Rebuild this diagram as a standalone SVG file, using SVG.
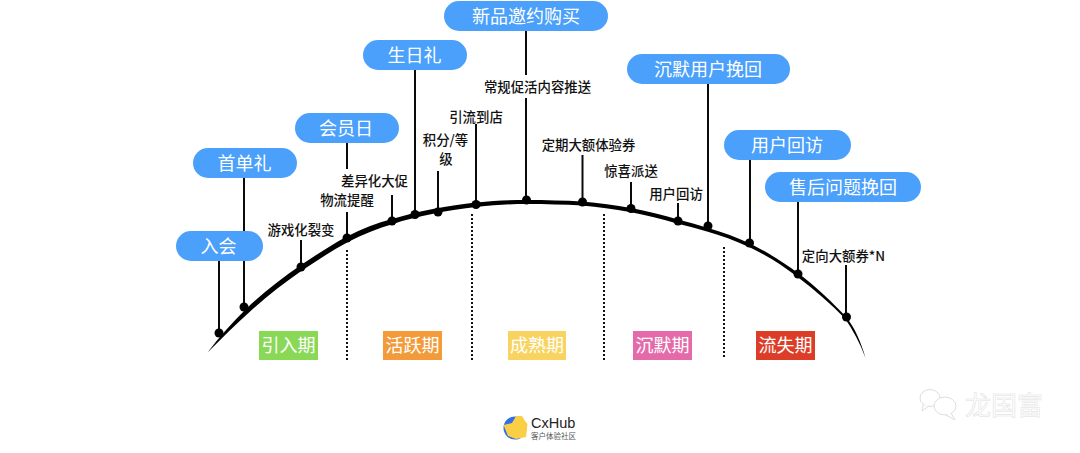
<svg xmlns="http://www.w3.org/2000/svg" width="1080" height="453" viewBox="0 0 1080 453">
<style>
text{font-family:"Noto Sans CJK SC","Noto Sans",sans-serif;text-anchor:middle}
.p{fill:#4aa0fa}
.pt{fill:#fff;font-size:18px}
.l{font-size:13.400px;fill:#111;font-weight:500}
.s{stroke:#0a0a0a;stroke-width:2;fill:none}
.d{stroke:#111;stroke-width:2;stroke-dasharray:2 2;fill:none}
.dot{fill:#000}
.t{font-size:18px;fill:#fff}
</style>
<rect width="1080" height="453" fill="#fff"/>
<g id="curve">
<path d="M207.500 352.500C220 336 233 322 247 308C264 292 282 278 301 265C316 255 331 245 347 236.500C362 228.500 377 223 392 219C415 212 450 205 476 202.500C495 200.500 510 200 527 200C546 200 564 200.500 582 201.500C599 203 615 205 631 208C647 211 663 215 678 219.500C688 222 698 225 708 228C722 232 736 237 750 243.500C767 252 783 262 798 273C816 286.500 832 302 846 317C855 328 861 342 865.500 358C860 343 853 330 845 318.500C831 304 815 290 797 276.500C782 265 766 255 749 247C735 240.500 721 235.500 707 231.500C697 228.500 687 226 677 223.500C662 219 646 215 630 212C614 209 598 207 582 205.500C564 204.500 546 204 527 204C510 204 495 205 476 207C450 210 416 216 393 224C378 228.500 363 234 348 242C332 250.500 317 260.500 302 270.500C283 283.500 266 297 249 312.500C235 325 222 338 207.500 352.500Z" fill="#000"/>
</g>
<g id="connectors">
<path class="s" d="M219 260V333M244 178V231M244 261V307M301 240V267M347 143V169M347 212V238M392 195V221M415 68V214M438 171V212M476 124V204M526 30V75M526 98V200M582.500 155V202M631 182V208.500M678 203V221M708 84V226M750 160V243M798 202V274M846 265V317"/>
<path class="d" d="M347 250V360M472 214V360M604 214V360M724 247V357"/>
<g class="dot">
<circle cx="219" cy="333" r="4.500"/><circle cx="244" cy="307" r="4.500"/><circle cx="301" cy="267" r="4.500"/><circle cx="347" cy="238" r="4.500"/><circle cx="392" cy="221" r="4.500"/><circle cx="415" cy="214.500" r="4.500"/><circle cx="438" cy="212" r="4.500"/><circle cx="476" cy="204.500" r="4.500"/><circle cx="526.500" cy="200" r="4.500"/><circle cx="582.500" cy="202" r="4.500"/><circle cx="631" cy="208.500" r="4.500"/><circle cx="678" cy="221" r="4.500"/><circle cx="708" cy="226" r="4.500"/><circle cx="749.500" cy="243" r="4.500"/><circle cx="798" cy="274" r="4.500"/><circle cx="846.500" cy="317" r="4.500"/>
</g>
</g>
<g id="n1"><rect class="p" x="176" y="231" width="87" height="30" rx="15"/><text class="pt" x="218.500" y="253">入会</text></g>
<g id="n2"><rect class="p" x="193" y="148" width="104" height="30" rx="15"/><text class="pt" x="244.500" y="170">首单礼</text></g>
<g id="n3"><rect class="p" x="295" y="113" width="104" height="30" rx="15"/><text class="pt" x="346" y="135">会员日</text></g>
<g id="n4"><rect class="p" x="363" y="40" width="104" height="30" rx="15"/><text class="pt" x="414.500" y="62">生日礼</text></g>
<g id="n5"><rect class="p" x="444" y="1" width="164" height="30" rx="15"/><text class="pt" x="526" y="23">新品邀约购买</text></g>
<g id="n6"><rect class="p" x="627" y="54" width="163" height="30" rx="15"/><text class="pt" x="708" y="76">沉默用户挽回</text></g>
<g id="n7"><rect class="p" x="724" y="130" width="127" height="30" rx="15"/><text class="pt" x="787" y="152">用户回访</text></g>
<g id="n8"><rect class="p" x="765" y="172" width="156" height="30" rx="15"/><text class="pt" x="843" y="194">售后问题挽回</text></g>
<g id="labels">
<text class="l" x="301" y="235">游戏化裂变</text>
<text class="l" x="347" y="205">物流提醒</text>
<text class="l" x="374.500" y="186">差异化大促</text>
<text class="l" x="445.500" y="145">积分/等</text>
<text class="l" x="446" y="164">级</text>
<text class="l" x="476" y="122">引流到店</text>
<text class="l" x="537.500" y="92">常规促活内容推送</text>
<text class="l" x="588.500" y="150">定期大额体验券</text>
<text class="l" x="631" y="176">惊喜派送</text>
<text class="l" x="676" y="199">用户回访</text>
<text class="l" x="843.500" y="261">定向大额券*N</text>
</g>
<g id="p1"><rect x="259" y="331" width="59" height="29" fill="#89d957"/><text class="t" x="288.500" y="352">引入期</text></g>
<g id="p2"><rect x="383" y="331" width="59" height="29" fill="#f39b3a"/><text class="t" x="412.500" y="352">活跃期</text></g>
<g id="p3"><rect x="508" y="331" width="58" height="29" fill="#f9d35f"/><text class="t" x="537" y="352">成熟期</text></g>
<g id="p4"><rect x="633" y="331" width="59" height="29" fill="#e56aa9"/><text class="t" x="662.500" y="352">沉默期</text></g>
<g id="p5"><rect x="756" y="331" width="59" height="29" fill="#dc3d27"/><text class="t" x="785.500" y="352">流失期</text></g>
<g id="logo">
<circle cx="515" cy="428" r="11.500" fill="#2f6fe8"/>
<path d="M503.500 425L512 423L516 416L522 416L525 421L527.500 424L526 437L516 439L508 436Z" fill="#fbcf45"/>
<text x="531" y="428" style="font-family:'Liberation Sans',sans-serif;font-size:14.500px;text-anchor:start" fill="#222">CxHub</text>
<text x="531" y="439" style="font-size:7.500px;text-anchor:start" fill="#555">客户体验社区</text>
</g>
<g id="watermark" fill="#fff" stroke="#dedede" stroke-width="1">
<ellipse cx="930" cy="398" rx="10" ry="8.500"/>
<path d="M923 405L922 411L929 406"/>
<ellipse cx="945" cy="406" rx="11" ry="9"/>
<path d="M951 413L955 420L946 415"/>
<text x="1004" y="415" style="font-size:26px" stroke-width="0.500">龙国富</text>
</g>
</svg>
